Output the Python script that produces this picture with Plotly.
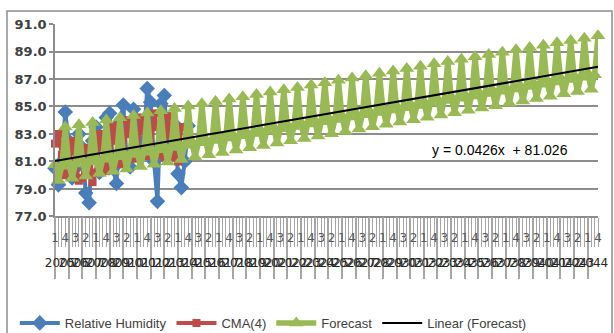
import numpy as np
import plotly.graph_objects as go

# ---------------- data ----------------
quarter_names = ["1", "2", "3", "4"]
years = [str(y) for y in range(2005, 2045)]
# category index 1..160 (quarters from 2005 Q1 to 2044 Q4)
periods = list(range(1, 161))

humidity = [80.5, 79.3, 81.0, 84.6, 82.5, 79.8, 80.5, 83.0,
            82.0, 78.7, 78.0, 82.5, 83.5, 80.2, 80.8, 84.2,
            84.5, 80.5, 79.4, 83.8, 85.1, 81.0, 80.6, 84.8,
            84.0, 81.5, 82.5, 86.3, 85.3, 81.0, 78.1, 85.2,
            85.8, 82.0, 81.5, 83.7, 80.1, 79.1, 81.0, 83.6]

cma4 = [82.3, 83.0, 81.5, 80.0, 80.5, 82.5, 81.0, 79.6,
        79.8, 82.0, 80.8, 79.5, 80.2, 83.0, 82.0, 80.3,
        80.8, 83.6, 82.5, 80.8, 81.0, 84.0, 83.0, 81.2,
        81.3, 84.2, 83.2, 81.4, 81.5, 84.5, 83.5, 81.5,
        81.3, 84.3, 83.0, 81.3, 81.0, 83.5]

forecast = [
    80.77, 79.61, 80.65, 83.50, 80.94, 79.78, 80.82, 83.67,
    81.11, 79.95, 80.99, 83.84, 81.28, 80.12, 81.17, 84.01,
    81.45, 80.29, 81.34, 84.18, 81.62, 80.46, 81.51, 84.35,
    81.79, 80.63, 81.68, 84.52, 81.96, 80.80, 81.85, 84.69,
    82.13, 80.97, 82.02, 84.86, 82.30, 81.14, 82.19, 85.03,
    82.47, 81.32, 82.36, 85.20, 82.64, 81.49, 82.53, 85.37,
    82.81, 81.66, 82.70, 85.54, 82.98, 81.83, 82.87, 85.71,
    83.15, 82.00, 83.04, 85.88, 83.33, 82.17, 83.21, 86.05,
    83.50, 82.34, 83.38, 86.22, 83.67, 82.51, 83.55, 86.39,
    83.84, 82.68, 83.72, 86.56, 84.01, 82.85, 83.89, 86.73,
    84.18, 83.02, 84.06, 86.90, 84.35, 83.19, 84.23, 87.07,
    84.52, 83.36, 84.40, 87.24, 84.69, 83.53, 84.57, 87.42,
    84.86, 83.70, 84.74, 87.59, 85.03, 83.87, 84.91, 87.76,
    85.20, 84.04, 85.08, 87.93, 85.37, 84.21, 85.25, 88.10,
    85.54, 84.38, 85.43, 88.27, 85.71, 84.55, 85.60, 88.44,
    85.88, 84.72, 85.77, 88.61, 86.05, 84.89, 85.94, 88.78,
    86.22, 85.06, 86.11, 88.95, 86.39, 85.23, 86.28, 89.12,
    86.56, 85.40, 86.45, 89.29, 86.73, 85.58, 86.62, 89.46,
    86.90, 85.75, 86.79, 89.63, 87.07, 85.92, 86.96, 89.80,
    87.24, 86.09, 87.13, 89.97, 87.41, 86.26, 87.30, 90.14,
]

equation_text = "y = 0.0426x  + 81.026"

# ---------------- styling ----------------
BLUE = "#4A7EBB"
RED = "#BE4B48"
GREEN = "#98B954"
GRID = "#8C8C8C"
TICKC = "#A6A6A6"
TXT = "#404040"

n = len(periods)
slope, intercept = np.polyfit(periods, forecast, 1)
trend = [slope * p + intercept for p in periods]

fig = go.Figure()
fig.add_trace(go.Scatter(
    x=periods[:len(humidity)], y=humidity, name="Relative Humidity",
    mode="lines+markers", line=dict(color=BLUE, width=4),
    marker=dict(symbol="diamond", size=12, color=BLUE), cliponaxis=False))
fig.add_trace(go.Scatter(
    x=periods[:len(cma4)], y=cma4, name="CMA(4)",
    mode="lines+markers", line=dict(color=RED, width=4),
    marker=dict(symbol="square", size=8, color=RED), cliponaxis=False))
fig.add_trace(go.Scatter(
    x=periods, y=forecast, name="Forecast",
    mode="lines+markers", line=dict(color=GREEN, width=5.5),
    marker=dict(symbol="triangle-up", size=13, color=GREEN), cliponaxis=False))
fig.add_trace(go.Scatter(
    x=periods, y=trend, name="Linear (Forecast)",
    mode="lines", line=dict(color="black", width=2)))

# empty traces to instantiate the extra category axes
for ax in ["x2", "x3", "x4"]:
    fig.add_trace(go.Scatter(x=[], y=[], xaxis=ax, yaxis="y",
                             showlegend=False, hoverinfo="skip"))

ydom0 = 0.2625
quarter_vals = periods[::3]
quarter_text = [quarter_names[(p - 1) % 4] for p in quarter_vals]
year_centers = [1.5 + 4 * i + 1 for i in range(len(years))]
year_bounds = [1 + 4 * i for i in range(len(years))]

fig.update_layout(
    width=614, height=333,
    margin=dict(l=55, r=16, t=24, b=48, autoexpand=False),
    paper_bgcolor="white", plot_bgcolor="white",
    font=dict(family="Liberation Sans", color=TXT),
    xaxis=dict(range=[1, n], showgrid=False, zeroline=False,
               showline=True, linecolor=GRID, linewidth=1.5,
               ticks="outside", ticklen=29, tickwidth=1, tickcolor=TICKC,
               tickmode="array", tickvals=periods, showticklabels=False),
    xaxis2=dict(range=[1, n], overlaying="x", anchor="free", position=ydom0,
                showgrid=False, zeroline=False, showline=False,
                ticks="outside", ticklen=62, tickwidth=1.5, tickcolor=TICKC,
                tickmode="array", tickvals=year_bounds, showticklabels=False),
    xaxis3=dict(range=[1, n], overlaying="x", anchor="free", position=0.119,
                showgrid=False, zeroline=False, showline=False, ticks="",
                tickmode="array", tickvals=year_centers, ticktext=years,
                tickangle=0, tickfont=dict(family="DejaVu Sans", size=12, color="#262626")),
    xaxis4=dict(range=[1, n], overlaying="x", anchor="free", position=0.215,
                showgrid=False, zeroline=False, showline=False, ticks="",
                tickmode="array", tickvals=quarter_vals, ticktext=quarter_text,
                tickangle=0, tickfont=dict(family="DejaVu Sans", size=12, color="#595959")),
    yaxis=dict(domain=[ydom0, 1], range=[77, 91], dtick=2, tick0=77,
               tickformat=".1f", showgrid=True, gridcolor=GRID, gridwidth=1.5,
               zeroline=False, showline=True, linecolor=GRID, linewidth=1.5,
               ticks="outside", ticklen=4, tickcolor=GRID, tickwidth=1.5,
               tickfont=dict(family="DejaVu Sans", size=13, color=TXT, weight="bold")),
    legend=dict(orientation="h", x=-0.074, xanchor="left", y=-0.088, yanchor="top",
                font=dict(family="Liberation Sans", size=13, color=TXT),
                bgcolor="rgba(0,0,0,0)", itemwidth=40, tracegroupgap=0),
    shapes=[dict(type="rect", xref="paper", yref="paper",
                 x0=-0.0884, x1=1.0258, y0=-0.25, y1=1.0498,
                 line=dict(color=GRID, width=1.5), fillcolor="rgba(0,0,0,0)",
                 layer="below")],
    annotations=[dict(text=equation_text, xref="paper", yref="y",
                      x=0.69, y=81.84, xanchor="left", yanchor="middle",
                      showarrow=False,
                      font=dict(family="Liberation Sans", size=14, color="black"))],
)

fig.write_html("out.html")
